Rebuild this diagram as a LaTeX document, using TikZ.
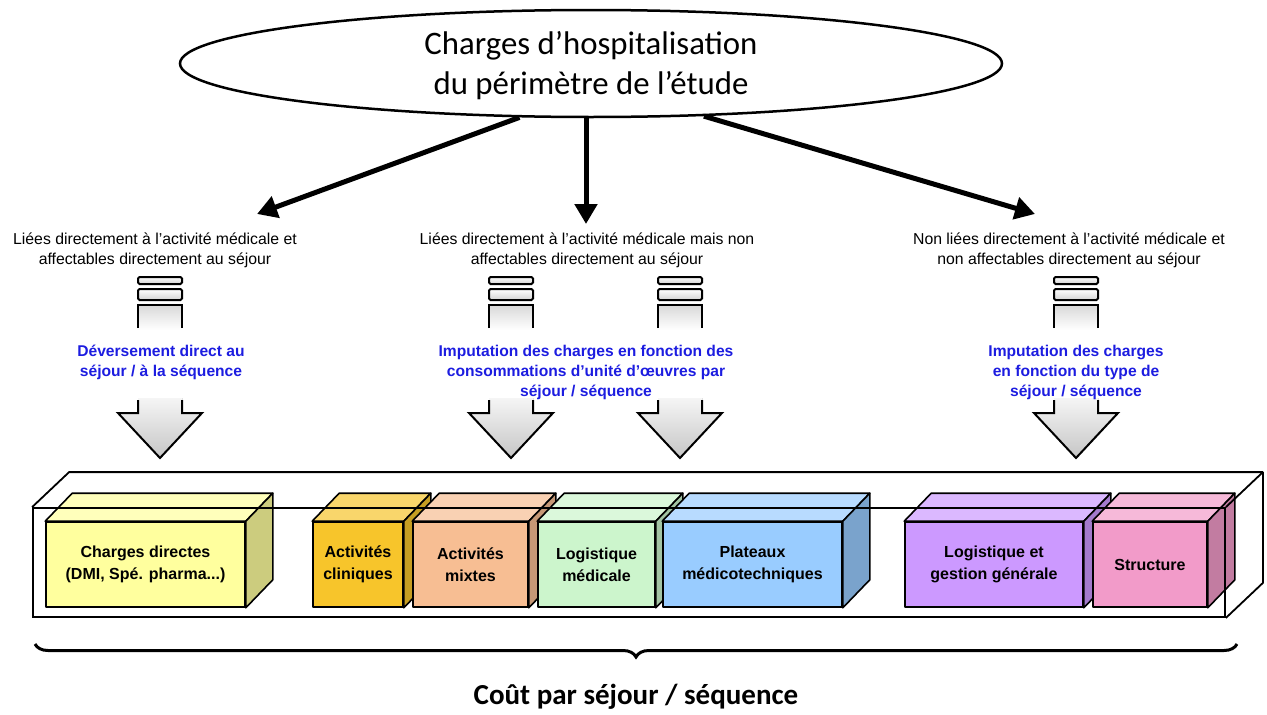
\documentclass[tikz,border=0pt]{standalone}
\usepackage{fontspec}
\setmainfont{Liberation Sans}
\setsansfont{Liberation Sans}
\newfontfamily\titlefont{Carlito}
\usepackage{tikz}
\usetikzlibrary{positioning,arrows.meta,shapes.geometric,calc,decorations.pathreplacing}
\definecolor{cyellow}{HTML}{FFFF9E}
\definecolor{cgold}{HTML}{F7C52B}
\definecolor{csalmon}{HTML}{F7BE93}
\definecolor{cgreen}{HTML}{CCF5CC}
\definecolor{cblue}{HTML}{99CCFF}
\definecolor{cpurple}{HTML}{CC99FF}
\definecolor{cpink}{HTML}{F29BC9}
\definecolor{imput}{HTML}{1C1CE0}
\tikzset{
  root/.style    ={ellipse, draw, line width=2.5pt, fill=white, minimum width=822, minimum height=107, inner sep=0pt},
  roottxt/.style ={font=\titlefont\fontsize{32.8}{40}\selectfont, align=center, inner sep=0pt},
  catlbl/.style  ={font=\fontsize{15.8}{20}\selectfont, align=center, inner sep=0pt},
  methlbl/.style ={font=\bfseries\fontsize{15.6}{20}\selectfont, text=imput, align=center, inner sep=0pt},
  cube/.style    ={draw, line width=1.6pt, fill=#1, minimum height=85, line join=round,
                   font=\bfseries\fontsize{16}{22}\selectfont, align=center, inner sep=0pt},
  bigarr/.style  ={-{Triangle[length=20pt,width=22pt]}, line width=5pt},
  pipe/.style    ={draw, line width=2pt, rounded corners=1.5pt, top color=white, bottom color=gray!35},
  tray/.style    ={draw, line width=1.8pt, minimum width=1192, minimum height=109, inner sep=0pt},
}
% top and side of a box
\newcommand\cubefaces[2]{%
  \draw[line width=1.6pt, line join=round, fill=#2!70!white]
    (#1.north west) -- ([shift={(27,-28)}]#1.north west) -- ([shift={(27,-28)}]#1.north east) -- (#1.north east) -- cycle;
  \draw[line width=1.6pt, line join=round, fill=#2!80!black]
    (#1.north east) -- ([shift={(27,-28)}]#1.north east) -- ([shift={(27,-28)}]#1.south east) -- (#1.south east) -- cycle;
}
% grey feed arrow
\newcommand\feeder[1]{%
  \draw[pipe] (#1-22,277) rectangle (#1+22,284);
  \draw[pipe] (#1-22,289) rectangle (#1+22,300);
  \fill[top color=gray!30, bottom color=white] (#1-22,305) rectangle (#1+22,330);
  \draw[line width=2pt] (#1-22,328) -- (#1-22,305) -- (#1+22,305) -- (#1+22,328);
  \fill[top color=gray!8, bottom color=gray!45] (#1-22,398) -- (#1-22,413) -- (#1-42,413) -- (#1,458)
    -- (#1+42,413) -- (#1+22,413) -- (#1+22,398) -- cycle;
  \draw[line width=2pt] (#1-22,400) -- (#1-22,413) -- (#1-42,413) -- (#1,458)
    -- (#1+42,413) -- (#1+22,413) -- (#1+22,400);
}

\begin{document}
\begin{tikzpicture}[x=1pt, y=-1pt]
\useasboundingbox (0,0) rectangle (1267,715);

\node[root] (hosp) at (591,63.5) {};
\node[roottxt] (hospt) at (591,66) {Charges d’hospitalisation\\du périmètre de l’étude};

\node[catlbl] (lblA) at (155,250) {Liées directement à l'activité médicale et\\affectables directement au séjour};
\node[catlbl] (lblB) at (587,250) {Liées directement à l'activité médicale mais non\\affectables directement au séjour};
\node[catlbl] (lblC) at (1069,250) {Non liées directement à l'activité médicale et\\non affectables directement au séjour};

\coordinate (tipA) at (257,214);
\coordinate (tipB) at (586,224);
\coordinate (tipC) at (1035,214);
\draw[bigarr] (hosp.217) -- (tipA);
\draw[bigarr] (hosp.south -| tipB) -- (tipB);
\draw[bigarr] (hosp.335) -- (tipC);

\feeder{160}
\feeder{511}
\feeder{680}
\feeder{1076}

\node[methlbl] (methA) at (161,362) {Déversement direct au\\séjour / à la séquence};
\node[methlbl] (methB) at (586,372) {Imputation des charges en fonction des\\consommations d'unité d'œuvres par\\séjour / séquence};
\node[methlbl] (methC) at (1076,372) {Imputation des charges\\en fonction du type de\\séjour / séquence};

% boxes, left to right
\node[cube=cyellow, minimum width=199] (chd) at (145.5,564.5) {Charges directes\\(DMI, Spé. pharma...)};
\cubefaces{chd}{cyellow}
\node[cube=cgold, minimum width=90] (clin) at (358,564.5) {Activités\\cliniques};
\cubefaces{clin}{cgold}
\node[cube=csalmon, minimum width=115] (mixt) at (470.5,564.5) {Activités\\mixtes};
\cubefaces{mixt}{csalmon}
\node[cube=cgreen, minimum width=117] (logm) at (596.5,564.5) {Logistique\\médicale};
\cubefaces{logm}{cgreen}
\node[cube=cblue, minimum width=179] (plat) at (752.5,564.5) {Plateaux\\médicotechniques};
\cubefaces{plat}{cblue}
\node[cube=cpurple, minimum width=178] (logg) at (994,564.5) {Logistique et\\gestion générale};
\cubefaces{logg}{cpurple}
\node[cube=cpink, minimum width=114] (strc) at (1150,564.5) {Structure};
\cubefaces{strc}{cpink}

% open tray round the boxes
\node[tray] (tray) at (629,562.5) {};
\draw[line width=1.8pt, line join=round] (tray.north west) -- ([shift={(37,-35)}]tray.north west)
  -- ([shift={(37,-35)}]tray.north east) -- ([shift={(37,-35)}]tray.south east) -- (tray.south east);
\draw[line width=1.8pt] (tray.north east) -- ([shift={(37,-35)}]tray.north east);

\node[font=\titlefont\bfseries\fontsize{29}{34}\selectfont] (cost) at (636,697) {Coût par séjour / séquence};
\draw[line width=3pt, decorate, decoration={brace, mirror, amplitude=13pt}] (35,644) -- (1237,644);
\end{tikzpicture}
\end{document}
